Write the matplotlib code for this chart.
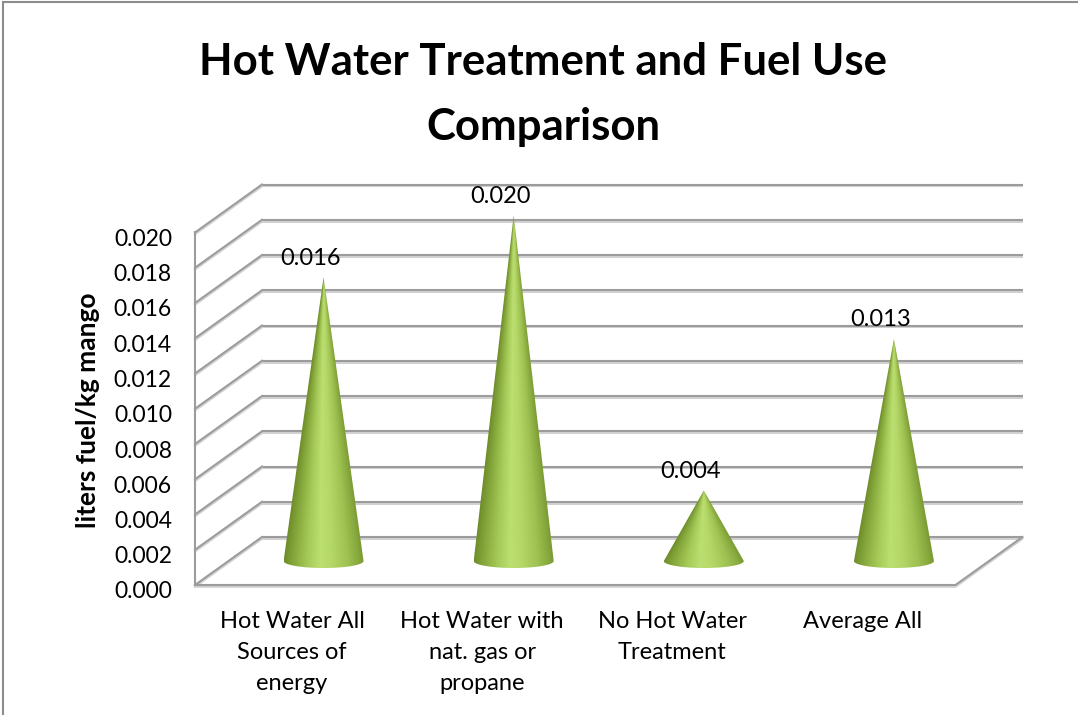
import numpy as np
import matplotlib
matplotlib.use("Agg")
import matplotlib.pyplot as plt
from matplotlib.patches import Polygon, Rectangle
from matplotlib.colors import LinearSegmentedColormap
import matplotlib.patheffects as pe

# ---------------- data ----------------
categories = ["Hot Water All\nSources of\nenergy",
              "Hot Water with\nnat. gas or\npropane",
              "No Hot Water\nTreatment",
              "Average All"]
values = [0.0161, 0.0196, 0.0040, 0.0126]
yticks = [0.000, 0.002, 0.004, 0.006, 0.008, 0.010, 0.012, 0.014, 0.016, 0.018, 0.020]
title_lines = ["Hot Water Treatment and Fuel Use", "Comparison"]
ylabel = "liters fuel/kg mango"

plt.rcParams['font.family'] = ['Lato', 'DejaVu Sans']

W, H = 1078, 715
fig = plt.figure(figsize=(W / 100, H / 100), dpi=100)
fig.patch.set_facecolor('white')

# mid-depth plane of the 3-D box (pixel geometry)
mid_left, mid_right = 228.5, 989.0
mid_zero, mid_top = 561.0, 208.5
ax = fig.add_axes([mid_left / W, (H - mid_zero) / H,
                   (mid_right - mid_left) / W, (mid_zero - mid_top) / H])
xmin, xmax = -0.5, len(categories) - 0.5
ymin, ymax = 0.0, 0.020
ax.set_xlim(xmin, xmax)
ax.set_ylim(ymin, ymax)
ax.axis('off')

px_x = (mid_right - mid_left) / (xmax - xmin)     # pixels per x unit
px_y = (mid_zero - mid_top) / (ymax - ymin)       # pixels per y unit
DEPTH_X, DEPTH_Y = 33.5, 24.0                      # half depth in pixels
ddx = DEPTH_X / px_x
ddy = DEPTH_Y / px_y

grid_col = '#9c9c9c'
grid_fx = [pe.SimpleLineShadow(offset=(0, -1.3), shadow_color='#d2d2d2', alpha=1.0), pe.Normal()]

# back wall gridlines
for v in yticks:
    ax.plot([xmin + ddx, xmax + ddx], [v + ddy, v + ddy], color=grid_col, lw=1.5,
            clip_on=False, zorder=1, path_effects=grid_fx, solid_capstyle='butt')
# left wall gridlines
for v in yticks:
    ax.plot([xmin - ddx, xmin + ddx], [v - ddy, v + ddy], color=grid_col, lw=1.5,
            clip_on=False, zorder=1, path_effects=grid_fx)
# front vertical axis line
ax.plot([xmin - ddx, xmin - ddx], [ymin - ddy, ymax - ddy], color=grid_col, lw=1.5,
        clip_on=False, zorder=1)
# floor edges
ax.plot([xmin - ddx, xmax - ddx, xmax + ddx], [ymin - ddy, ymin - ddy, ymin + ddy],
        color=grid_col, lw=1.5, clip_on=False, zorder=1, path_effects=grid_fx)

# cones with cylindrical shading
cone_cmap = LinearSegmentedColormap.from_list('cone', [
    (0.00, '#6f8e2b'), (0.12, '#86a83c'), (0.30, '#a7cb59'), (0.45, '#bbdf70'),
    (0.60, '#b4d768'), (0.80, '#9ec152'), (0.93, '#88aa3e'), (1.00, '#7a9a33')])
r = 40.0 / px_x
ry = 7.0 / px_y
t = np.linspace(0, -np.pi, 80)
for i, v in enumerate(values):
    ex = i + r * np.cos(t)
    ey = ry * np.sin(t)
    pts = np.vstack([[i, v], np.column_stack([ex, ey])])
    poly = Polygon(pts, closed=True, transform=ax.transData, facecolor='none', edgecolor='none')
    ax.add_patch(poly)
    xs = np.linspace(i - r, i + r, 240)
    ys = np.linspace(v, -ry, 400)
    XX, YY = np.meshgrid(xs, ys)
    half = r * np.clip(1 - np.clip(YY, 0, None) / v, 1e-4, None)
    u = np.clip((XX - i) / half, -1, 1)
    shade = (u + 1) / 2
    im = ax.imshow(shade, cmap=cone_cmap, vmin=0, vmax=1, extent=[i - r, i + r, -ry, v],
                   aspect='auto', interpolation='bilinear', zorder=3)
    im.set_clip_path(poly)
    im.set_clip_box(fig.bbox)
    ax.annotate(f"{v:.3f}", (i, v), xytext=(-13, 19), textcoords='offset pixels',
                ha='center', va='center', fontsize=17, color='black', zorder=5)

ax.set_xlim(xmin, xmax)
ax.set_ylim(ymin, ymax)

# y tick labels on the front axis
for v in yticks:
    ax.annotate(f"{v:.3f}", (xmin - ddx, v - ddy), xytext=(-23, -7), textcoords='offset pixels',
                ha='right', va='center', fontsize=16.5, color='black', annotation_clip=False)

# category labels at the front edge
for i, lab in enumerate(categories):
    for k, line in enumerate(lab.split("\n")):
        ax.annotate(line, (i - ddx, ymin - ddy), xytext=(2, -43 - 31 * k),
                    textcoords='offset pixels', ha='center', va='baseline',
                    fontsize=17, color='black', annotation_clip=False)

# axis title
fig.text(88 / W, 1 - 410 / H, ylabel, rotation=90, ha='center', va='center',
         fontsize=19, fontweight='bold', color='black')

# chart title
fig.text(543 / W, 1 - 75 / H, title_lines[0], ha='center', va='baseline',
         fontsize=31.5, fontweight='bold', color='black')
fig.text(543 / W, 1 - 140 / H, title_lines[1], ha='center', va='baseline',
         fontsize=31.5, fontweight='bold', color='black')

# chart area border (only top and left visible)
fig.add_artist(Rectangle((3 / W, -0.05), 1.2, 1 - 2 / H + 0.05, transform=fig.transFigure,
                         fill=False, edgecolor='#8c8c8c', lw=1.5))

fig.savefig("out.png", dpi=100, facecolor='white')
